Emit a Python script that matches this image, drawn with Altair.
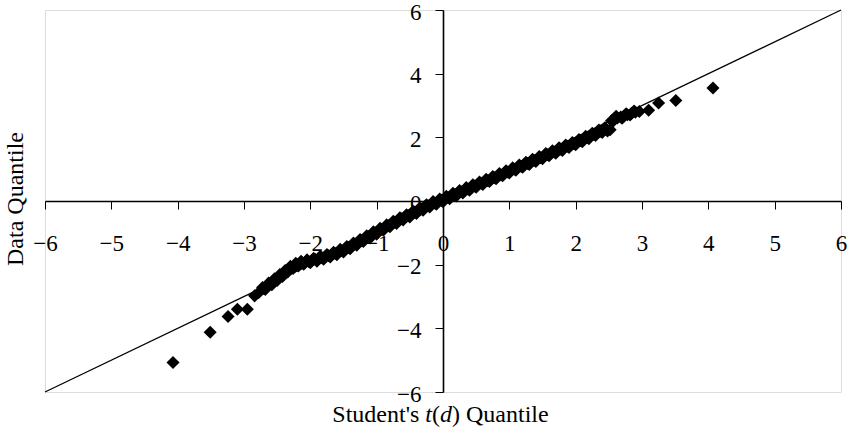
import altair as alt
import pandas as pd

# Student's t(d) quantiles (horizontal) and sorted data quantiles (vertical)
t_quantile = [
    -4.07, -3.51, -3.24, -3.10, -2.95, -2.84, -2.78,
    -2.72, -2.68, -2.63, -2.58, -2.54, -2.50, -2.46, -2.42, -2.38, -2.34,
    -2.30, -2.26, -2.22, -2.18, -2.14, -2.10, -2.05, -2.00, -1.95, -1.90,
    -1.85, -1.80, -1.75, -1.70, -1.65, -1.60, -1.55, -1.50, -1.45, -1.40,
    -1.35, -1.30, -1.25, -1.20, -1.15, -1.10, -1.05, -1.00, -0.95, -0.90,
    -0.85, -0.80, -0.75, -0.70, -0.65, -0.60, -0.55, -0.50, -0.45, -0.40,
    -0.35, -0.30, -0.25, -0.20, -0.15, -0.10, -0.05, 0.00, 0.05, 0.10,
    0.15, 0.20, 0.25, 0.30, 0.35, 0.40, 0.45, 0.50, 0.55, 0.60,
    0.65, 0.70, 0.75, 0.80, 0.85, 0.90, 0.95, 1.00, 1.05, 1.10,
    1.15, 1.20, 1.25, 1.30, 1.35, 1.40, 1.45, 1.50, 1.55, 1.60,
    1.65, 1.70, 1.75, 1.80, 1.85, 1.90, 1.95, 2.00, 2.05, 2.10,
    2.15, 2.20, 2.25, 2.30, 2.35, 2.40, 2.44, 2.48, 2.52,
    2.54, 2.56, 2.58, 2.61, 2.63, 2.68, 2.70, 2.73, 2.76, 2.78,
    2.82, 2.84, 2.88, 2.90, 2.96,
    3.10, 3.25, 3.51, 4.07,
]
data_quantile = [
    -5.07, -4.12, -3.63, -3.40, -3.40, -2.98, -2.88,
    -2.72, -2.78, -2.58, -2.63, -2.44, -2.50, -2.31, -2.37, -2.18, -2.23,
    -2.05, -2.12, -1.96, -2.04, -1.89, -1.99, -1.85, -1.94, -1.80, -1.89,
    -1.74, -1.83, -1.68, -1.76, -1.61, -1.69, -1.52, -1.60, -1.43, -1.50,
    -1.32, -1.39, -1.21, -1.27, -1.09, -1.16, -0.97, -1.04, -0.86, -0.92,
    -0.75, -0.81, -0.64, -0.71, -0.53, -0.60, -0.43, -0.50, -0.32, -0.39,
    -0.22, -0.29, -0.12, -0.19, -0.02, -0.10, 0.06, -0.02, 0.15, 0.07,
    0.24, 0.16, 0.33, 0.25, 0.42, 0.34, 0.51, 0.43, 0.60, 0.52,
    0.68, 0.61, 0.77, 0.70, 0.86, 0.79, 0.95, 0.88, 1.04, 0.97,
    1.13, 1.06, 1.22, 1.15, 1.31, 1.24, 1.40, 1.33, 1.49, 1.42,
    1.58, 1.50, 1.67, 1.59, 1.76, 1.68, 1.84, 1.77, 1.93, 1.86,
    2.03, 1.96, 2.13, 2.06, 2.23, 2.15, 2.30, 2.20, 2.24,
    2.52, 2.50, 2.58, 2.66, 2.61, 2.64, 2.60, 2.67, 2.74, 2.71,
    2.70, 2.75, 2.83, 2.79, 2.81,
    2.85, 3.08, 3.16, 3.55,
]

# Further quantile pairs lying between the ones above in the dense middle
t_quantile_mid = [
    -2.700, -2.655, -2.605, -2.560, -2.520, -2.480, -2.440, -2.400, -2.360,
    -2.320, -2.280, -2.240, -2.200, -2.160, -2.120, -2.075, -2.025, -1.975,
    -1.925, -1.875, -1.825, -1.775, -1.725, -1.675, -1.625, -1.575, -1.525,
    -1.475, -1.425, -1.375, -1.325, -1.275, -1.225, -1.175, -1.125, -1.075,
    -1.025, -0.975, -0.925, -0.875, -0.825, -0.775, -0.725, -0.675, -0.625,
    -0.575, -0.525, -0.475, -0.425, -0.375, -0.325, -0.275, -0.225, -0.175,
    -0.125, -0.075, -0.025, 0.025, 0.075, 0.125, 0.175, 0.225, 0.275,
    0.325, 0.375, 0.425, 0.475, 0.525, 0.575, 0.625, 0.675, 0.725,
    0.775, 0.825, 0.875, 0.925, 0.975, 1.025, 1.075, 1.125, 1.175,
    1.225, 1.275, 1.325, 1.375, 1.425, 1.475, 1.525, 1.575, 1.625,
    1.675, 1.725, 1.775, 1.825, 1.875, 1.925, 1.975, 2.025, 2.075,
    2.125, 2.175, 2.225, 2.275, 2.325, 2.375, 2.420, 2.460,
]
data_quantile_mid = [
    -2.75, -2.68, -2.60, -2.53, -2.47, -2.40, -2.34, -2.28, -2.20,
    -2.14, -2.09, -2.04, -2.00, -1.97, -1.94, -1.92, -1.90, -1.87,
    -1.84, -1.81, -1.78, -1.75, -1.72, -1.68, -1.65, -1.61, -1.56,
    -1.51, -1.46, -1.41, -1.35, -1.30, -1.24, -1.18, -1.12, -1.06,
    -1.00, -0.95, -0.89, -0.83, -0.78, -0.72, -0.67, -0.62, -0.56,
    -0.51, -0.46, -0.41, -0.35, -0.30, -0.25, -0.20, -0.15, -0.10,
    -0.06, -0.02, 0.02, 0.06, 0.11, 0.15, 0.20, 0.24, 0.29,
    0.33, 0.38, 0.42, 0.47, 0.51, 0.56, 0.60, 0.64, 0.69,
    0.73, 0.78, 0.82, 0.87, 0.91, 0.96, 1.00, 1.05, 1.09,
    1.14, 1.18, 1.23, 1.27, 1.32, 1.36, 1.41, 1.45, 1.50,
    1.54, 1.58, 1.63, 1.67, 1.72, 1.76, 1.80, 1.85, 1.89,
    1.94, 1.99, 2.04, 2.09, 2.14, 2.19, 2.23, 2.25,
]

# 45-degree reference line
ref_x = [-6, 6]
ref_y = [-6, 6]

x_ticks = [-6, -5, -4, -3, -2, -1, 0, 1, 2, 3, 4, 5, 6]
y_ticks = [-6, -4, -2, 0, 2, 4, 6]

W, H = 796, 382
FONT = "Liberation Serif"

points_df = pd.DataFrame({
    "t": t_quantile + t_quantile_mid,
    "q": data_quantile + data_quantile_mid,
})
line_df = pd.DataFrame({"t": ref_x, "q": ref_y})

x_scale = alt.Scale(domain=[-6, 6], nice=False, zero=False)
y_scale = alt.Scale(domain=[-6, 6], nice=False, zero=False)

x_axis = alt.Axis(
    values=x_ticks, orient="bottom", offset=-H / 2, title=None, grid=False,
    tickSize=8, tickColor="black", tickWidth=1,
    domainColor="black", domainWidth=1.6,
    labelFont=FONT, labelFontSize=23, labelColor="black",
    labelPadding=23, labelFlush=False, labelOverlap=False, format="d",
)
y_axis = alt.Axis(
    values=y_ticks, orient="left", offset=-W / 2, title=None, grid=False,
    tickSize=8, tickColor="black", tickWidth=1,
    domainColor="black", domainWidth=1.6,
    labelFont=FONT, labelFontSize=23, labelColor="black",
    labelPadding=14, labelOffset=2, labelFlush=False, labelOverlap=False, format="d",
)

ref_line = alt.Chart(line_df).mark_line(color="black", strokeWidth=1.3).encode(
    x=alt.X("t:Q", scale=x_scale, axis=x_axis),
    y=alt.Y("q:Q", scale=y_scale, axis=y_axis),
)

points = alt.Chart(points_df).mark_point(
    shape="diamond", filled=True, size=170, color="black", opacity=1
).encode(
    x=alt.X("t:Q", scale=x_scale),
    y=alt.Y("q:Q", scale=y_scale),
)

# Axis titles; the horizontal one mixes upright and italic runs
title_df = pd.DataFrame({"k": [0]})
y_title = alt.Chart(title_df).mark_text(
    text="Data Quantile", font=FONT, fontSize=24, angle=270,
    align="center", baseline="middle", color="black",
).encode(x=alt.value(-29), y=alt.value(189))

x_runs = [
    ("Student's", "normal", 287.3),
    ("t", "italic", 380.3),
    ("(", "normal", 387.0),
    ("d", "italic", 395.0),
    (")", "normal", 407.0),
    ("Quantile", "normal", 421.0),
]
x_title_layers = [
    alt.Chart(title_df).mark_text(
        text=txt, font=FONT, fontSize=24, fontStyle=style,
        align="left", baseline="alphabetic", color="black",
    ).encode(x=alt.value(xpos), y=alt.value(412))
    for txt, style, xpos in x_runs
]

chart = alt.layer(ref_line, points, y_title, *x_title_layers).properties(
    width=W, height=H,
    autosize=alt.AutoSizeParams(type="none"),
    padding={"left": 45, "top": 10, "right": 9, "bottom": 48},
).configure_view(
    stroke="#8a8a8a", strokeWidth=1
).configure(background="white")

chart.save("out.html", embed_options={"renderer": "svg", "actions": False})
